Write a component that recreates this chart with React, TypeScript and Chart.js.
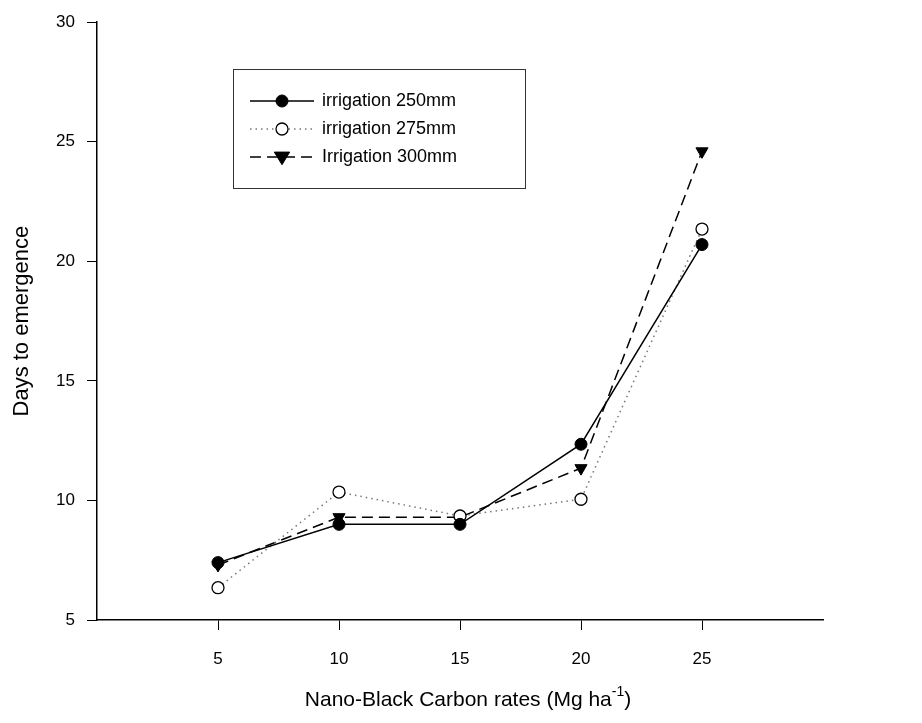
import React, { useEffect, useRef } from "react";
import { Chart, registerables } from "chart.js";

Chart.register(...registerables);

const rates = [5, 10, 15, 20, 25];
const irrigation250 = [7.4, 9.0, 9.0, 12.35, 20.7];
const irrigation275 = [6.35, 10.35, 9.35, 10.05, 21.35];
const irrigation300 = [7.3, 9.3, 9.3, 11.35, 24.6];
const seriesLabels = ["irrigation 250mm", "irrigation 275mm", "Irrigation 300mm"];
const xTicks = [5, 10, 15, 20, 25];
const yTicks = [5, 10, 15, 20, 25, 30];

const FONT = "'Liberation Sans', Arial, sans-serif";

const AREA = { left: 97, right: 823, top: 18, bottom: 620 };

const legendPlugin = {
  id: "boxLegend",
  afterDraw(chart: any) {
    const ctx = chart.ctx;
    ctx.save();
    const bx = 233, by = 69, bw = 292, bh = 119;
    ctx.strokeStyle = "#333";
    ctx.lineWidth = 1;
    ctx.strokeRect(bx + 0.5, by + 0.5, bw, bh);
    chart.data.datasets.forEach((ds: any, i: number) => {
      const y = by + 32 + i * 28;
      ctx.save();
      ctx.strokeStyle = ds.borderColor;
      ctx.lineWidth = ds.borderWidth;
      ctx.setLineDash(ds.borderDash || []);
      ctx.beginPath();
      ctx.moveTo(250, y);
      ctx.lineTo(314, y);
      ctx.stroke();
      ctx.restore();
      ctx.save();
      ctx.setLineDash([]);
      ctx.fillStyle = ds.pointBackgroundColor;
      ctx.strokeStyle = ds.pointBorderColor;
      ctx.lineWidth = ds.pointBorderWidth;
      const mx = 282;
      const r = ds.pointRadius;
      ctx.beginPath();
      if (ds.pointStyle === "triangle") {
        ctx.moveTo(mx - r * 1.1, y - r * 0.7);
        ctx.lineTo(mx + r * 1.1, y - r * 0.7);
        ctx.lineTo(mx, y + r * 1.1);
        ctx.closePath();
      } else {
        ctx.arc(mx, y, r, 0, Math.PI * 2);
      }
      ctx.fill();
      ctx.stroke();
      ctx.restore();
      ctx.fillStyle = "#000";
      ctx.font = `18px ${FONT}`;
      ctx.textBaseline = "middle";
      ctx.textAlign = "left";
      ctx.fillText(ds.label, 322, y);
    });
    ctx.restore();
  },
};

const xTitlePlugin = {
  id: "xTitle",
  afterDraw(chart: any) {
    const ctx = chart.ctx;
    const a = chart.chartArea;
    ctx.save();
    ctx.fillStyle = "#000";
    ctx.textBaseline = "alphabetic";
    const main = "Nano-Black Carbon rates (Mg ha";
    const sup = "-1";
    const end = ")";
    ctx.font = `21px ${FONT}`;
    const w1 = ctx.measureText(main).width;
    const w3 = ctx.measureText(end).width;
    ctx.font = `14px ${FONT}`;
    const w2 = ctx.measureText(sup).width;
    const total = w1 + w2 + w3;
    const cx = (a.left + a.right) / 2 + 8;
    let x = cx - total / 2;
    const y = 706;
    ctx.font = `21px ${FONT}`;
    ctx.textAlign = "left";
    ctx.fillText(main, x, y);
    x += w1;
    ctx.font = `14px ${FONT}`;
    ctx.fillText(sup, x, y - 10);
    x += w2;
    ctx.font = `21px ${FONT}`;
    ctx.fillText(end, x, y);
    ctx.restore();
  },
};

export default function App() {
  const ref = useRef<HTMLCanvasElement | null>(null);
  useEffect(() => {
    if (!ref.current) return;
    const mk = (data: number[]) => rates.map((r, i) => ({ x: r, y: data[i] }));
    const chart = new Chart(ref.current, {
      type: "line",
      data: {
        datasets: [
          {
            label: seriesLabels[0],
            data: mk(irrigation250),
            borderColor: "#000",
            borderWidth: 1.5,
            pointStyle: "circle",
            pointRadius: 6,
            pointBackgroundColor: "#000",
            pointBorderColor: "#000",
            pointBorderWidth: 1,
          },
          {
            label: seriesLabels[1],
            data: mk(irrigation275),
            borderColor: "#777",
            borderWidth: 1.5,
            borderDash: [1.5, 4],
            pointStyle: "circle",
            pointRadius: 6,
            pointBackgroundColor: "#fff",
            pointBorderColor: "#000",
            pointBorderWidth: 1.3,
          },
          {
            label: seriesLabels[2],
            data: mk(irrigation300),
            borderColor: "#000",
            borderWidth: 1.5,
            borderDash: [11, 6],
            pointStyle: "triangle",
            pointRotation: 180,
            pointRadius: 7,
            pointBackgroundColor: "#000",
            pointBorderColor: "#000",
            pointBorderWidth: 1,
          },
        ],
      },
      options: {
        animation: false,
        responsive: false,
        devicePixelRatio: 1,
        layout: { padding: { left: 0, right: 922 - AREA.right, top: AREA.top, bottom: 0 } },
        plugins: {
          legend: { display: false },
          tooltip: { enabled: false },
        },
        scales: {
          x: {
            type: "linear",
            min: 0,
            max: 30,
            afterBuildTicks: (s: any) => {
              s.ticks = xTicks.map((v) => ({ value: v }));
            },
            afterFit: (s: any) => {
              s.height = 723 - AREA.bottom;
            },
            grid: { drawOnChartArea: false, drawTicks: true, tickLength: 10, color: "#000", lineWidth: 1 },
            border: { display: true, color: "#000", width: 1.5 },
            ticks: { color: "#000", font: { family: FONT, size: 17 }, padding: 19, maxRotation: 0 },
          },
          y: {
            type: "linear",
            min: 5,
            max: 30,
            afterBuildTicks: (s: any) => {
              s.ticks = yTicks.map((v) => ({ value: v }));
            },
            afterFit: (s: any) => {
              s.width = AREA.left;
            },
            grid: { drawOnChartArea: false, drawTicks: true, tickLength: 10, color: "#000", lineWidth: 1 },
            border: { display: true, color: "#000", width: 1.5 },
            ticks: { color: "#000", font: { family: FONT, size: 17 }, padding: 12 },
            title: {
              display: true,
              text: "Days to emergence",
              color: "#000",
              font: { family: FONT, size: 22 },
              padding: { top: 9, bottom: 0 },
            },
          },
        },
      },
      plugins: [legendPlugin, xTitlePlugin],
    });
    return () => chart.destroy();
  }, []);
  return (
    <div style={{ position: "absolute", left: 0, top: 0, width: 922, height: 723, background: "#fff" }}>
      <canvas ref={ref} width={922} height={723} />
    </div>
  );
}
